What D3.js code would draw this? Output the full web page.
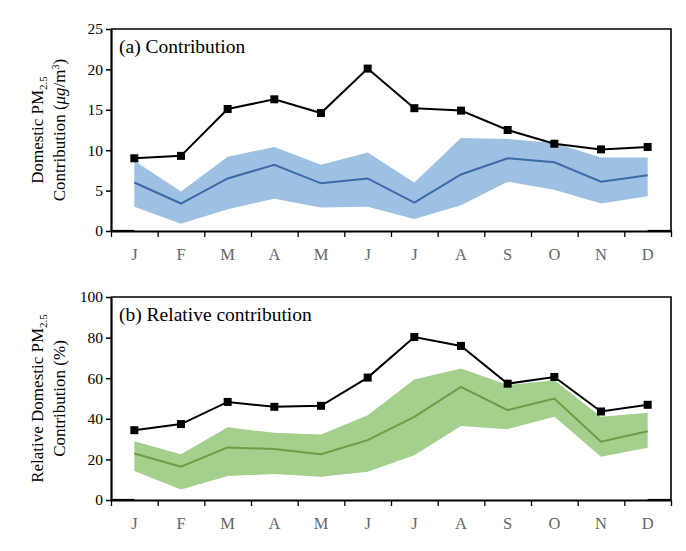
<!DOCTYPE html>
<html>
<head>
<meta charset="utf-8">
<script src="https://cdn.jsdelivr.net/npm/d3@7"></script>
<style>
  body { margin: 0; background: #fff; }
  text { font-family: "Liberation Serif", "Times New Roman", serif; }
</style>
</head>
<body>
<div id="chart"></div>
<script>
const months = ["J", "F", "M", "A", "M", "J", "J", "A", "S", "O", "N", "D"];
const monthIdx = d3.range(12);

// (a) contribution, ug/m3
const totalA = [9.0, 9.3, 15.1, 16.3, 14.6, 20.1, 15.2, 14.9, 12.5, 10.8, 10.1, 10.4];
const meanA  = [6.0, 3.4, 6.5, 8.2, 5.9, 6.5, 3.5, 7.0, 9.0, 8.5, 6.1, 6.9];
const upperA = [8.7, 4.9, 9.2, 10.4, 8.2, 9.7, 6.0, 11.5, 11.4, 10.9, 9.1, 9.1];
const lowerA = [3.0, 0.9, 2.7, 4.0, 2.9, 3.0, 1.5, 3.2, 6.1, 5.1, 3.4, 4.3];

// (b) relative contribution, %
const totalB = [34.4, 37.4, 48.3, 45.9, 46.4, 60.3, 80.3, 75.9, 57.3, 60.6, 43.6, 46.9];
const meanB  = [22.9, 16.4, 25.9, 25.1, 22.6, 29.5, 41.0, 55.7, 44.3, 50.0, 28.7, 33.9];
const upperB = [29.0, 22.5, 35.8, 33.1, 32.3, 41.8, 59.4, 64.8, 56.6, 59.0, 41.0, 43.0];
const lowerB = [14.3, 5.2, 11.8, 12.8, 11.5, 13.9, 22.1, 36.5, 34.9, 41.0, 21.3, 25.7];

const ticksA = [0, 5, 10, 15, 20, 25];
const ticksB = [0, 20, 40, 60, 80, 100];

const serif = "Liberation Serif, Times New Roman, serif";

const svg = d3.select("#chart")
    .append("svg")
    .attr("width", 686)
    .attr("height", 551);

const left = 111, right = 671;

const x = d3.scaleBand()
    .domain(monthIdx)
    .range([left, right])
    .padding(0);

const xEdge = d3.scaleLinear()
    .domain([0, 12])
    .range([left, right]);

function panel(cfg) {
    const y = d3.scaleLinear()
        .domain([0, cfg.max])
        .range([cfg.bottom, cfg.top]);
    const g = svg.append("g");
    const cx = i => x(i) + x.bandwidth() / 2;

    // band
    g.append("path")
        .datum(monthIdx)
        .attr("fill", cfg.bandColor)
        .attr("d", d3.area()
            .x(cx)
            .y0(i => y(cfg.lower[i]))
            .y1(i => y(cfg.upper[i])));

    // mean line
    g.append("path")
        .datum(monthIdx)
        .attr("fill", "none")
        .attr("stroke", cfg.lineColor)
        .attr("stroke-width", 2)
        .attr("d", d3.line().x(cx).y(i => y(cfg.mean[i])));

    // total line with squares
    g.append("path")
        .datum(monthIdx)
        .attr("fill", "none")
        .attr("stroke", "#000")
        .attr("stroke-width", 2)
        .attr("d", d3.line().x(cx).y(i => y(cfg.total[i])));

    g.selectAll("rect.mk")
        .data(monthIdx)
        .enter()
        .append("rect")
        .attr("class", "mk")
        .attr("x", i => cx(i) - 4)
        .attr("y", i => y(cfg.total[i]) - 4)
        .attr("width", 8)
        .attr("height", 8)
        .attr("fill", "#000");

    // frame top/right
    g.append("path")
        .attr("fill", "none")
        .attr("stroke", "#000")
        .attr("stroke-width", 1.6)
        .attr("d", `M${left},${cfg.top}H${right}V${cfg.bottom}`);

    // y axis
    const yAxis = g.append("g")
        .attr("transform", `translate(${left},0)`)
        .call(d3.axisLeft(y).tickValues(cfg.ticks).tickSize(5).tickPadding(3).tickSizeOuter(0))
        .attr("font-family", serif)
        .attr("font-size", 15.5);
    yAxis.select(".domain").attr("stroke-width", 2.2);
    yAxis.selectAll(".tick line").attr("stroke-width", 1.5);
    yAxis.selectAll("text").attr("fill", "#000");

    // x tick marks at month edges
    const xTicks = g.append("g")
        .attr("transform", `translate(0,${cfg.bottom})`)
        .call(d3.axisBottom(xEdge).ticks(12).tickSize(6).tickFormat("").tickSizeOuter(0));
    xTicks.select(".domain").attr("stroke-width", 2.2);
    xTicks.selectAll(".tick line").attr("stroke-width", 1.3);

    // slightly heavier baseline near both ends
    g.append("line")
        .attr("x1", left).attr("x2", cx(0))
        .attr("y1", cfg.bottom - 0.5).attr("y2", cfg.bottom - 0.5)
        .attr("stroke", "#000").attr("stroke-width", 1.2);
    g.append("line")
        .attr("x1", cx(11)).attr("x2", right)
        .attr("y1", cfg.bottom - 0.5).attr("y2", cfg.bottom - 0.5)
        .attr("stroke", "#000").attr("stroke-width", 1.2);

    // month labels
    const xLab = g.append("g")
        .attr("transform", `translate(0,${cfg.bottom})`)
        .call(d3.axisBottom(x).tickSize(0).tickPadding(17).tickFormat(i => months[i]))
        .attr("font-family", serif)
        .attr("font-size", 16.5);
    xLab.select(".domain").remove();
    xLab.selectAll("text").attr("fill", "#666");

    // panel title
    g.append("text")
        .attr("x", 119)
        .attr("y", cfg.top + 24)
        .attr("font-family", serif)
        .style("font-size", "19.5px")
        .attr("fill", "#000")
        .text(cfg.title);

    // y label (two lines)
    const mid = (cfg.top + cfg.bottom) / 2;
    const lab = g.append("text")
        .attr("transform", `translate(0,${mid}) rotate(-90)`)
        .attr("text-anchor", "middle")
        .attr("font-family", serif)
        .style("font-size", "17px")
        .attr("fill", "#000");
    const l1 = lab.append("tspan").attr("x", 0).attr("y", 43);
    l1.append("tspan").text(cfg.label1 + " PM");
    l1.append("tspan").attr("dy", 4).style("font-size", "11px").text("2.5");
    const l2 = lab.append("tspan").attr("x", 0).attr("y", 65);
    cfg.label2(l2);
    return g;
}

panel({
    top: 29, bottom: 231, max: 25, ticks: ticksA,
    total: totalA, mean: meanA, upper: upperA, lower: lowerA,
    bandColor: "#9dc0e3", lineColor: "#3a6ba7",
    title: "(a) Contribution",
    label1: "Domestic",
    label2: t => {
        t.append("tspan").text("Contribution  (");
        t.append("tspan").style("font-style", "italic").text("\u03bcg");
        t.append("tspan").text("/m");
        t.append("tspan").attr("dy", -6).style("font-size", "10px").text("3");
        t.append("tspan").attr("dy", 6).text(")");
    }
});

panel({
    top: 297, bottom: 500, max: 100, ticks: ticksB,
    total: totalB, mean: meanB, upper: upperB, lower: lowerB,
    bandColor: "#a4cf8d", lineColor: "#6b9d42",
    title: "(b) Relative contribution",
    label1: "Relative Domestic",
    label2: t => t.text("Contribution  (%)")
});
</script>
</body>
</html>
